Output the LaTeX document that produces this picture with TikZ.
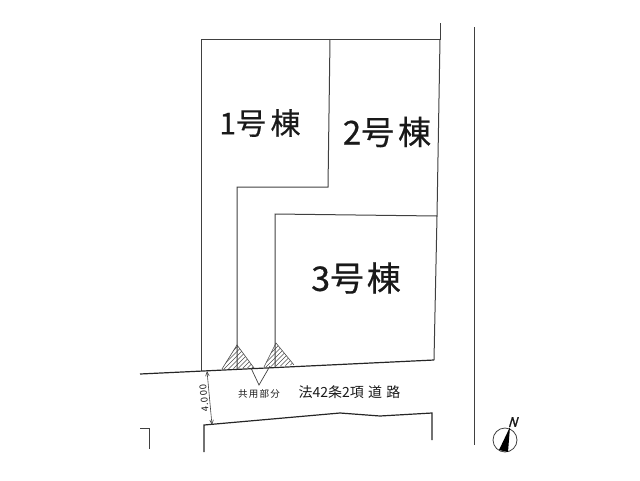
\documentclass[tikz,border=0pt]{standalone}
\usepackage{fontspec}
\usepackage{tikz}
\usetikzlibrary{arrows}
\setmainfont{Noto Sans CJK JP}
\newfontfamily\heavyfont[FakeBold=0.5]{Noto Sans CJK JP}
\newfontfamily\northfont[FakeBold=1.2,FakeSlant=0.3]{Noto Sans CJK JP}
\tikzstyle{boundary} = [draw=black!75, line width=1pt]
\tikzstyle{road} = [draw=black!85, line width=1.2pt]
\tikzstyle{hatchline} = [draw=black!70, line width=0.6pt]
\tikzstyle{lotlabel} = [inner sep=0pt, text=black!90]

\begin{document}
\begin{tikzpicture}[x=1pt, y=-1pt]
    \useasboundingbox (0,0) rectangle (640,480);
    % Hatched corners
    \begin{scope}
        \clip (237,345) -- (222,369) -- (254,368) -- cycle;
        \foreach \x in {212,216.5,...,258} \path[hatchline] (\x,372) -- (\x+32,340);
    \end{scope}
    \begin{scope}
        \clip (276,343) -- (264,367) -- (294,365) -- cycle;
        \foreach \x in {252,256.5,...,298} \path[hatchline] (\x,372) -- (\x+32,340);
    \end{scope}
    \path[hatchline] (254,368) -- (237,345) -- (222,369);
    \path[hatchline] (294,365) -- (276,343) -- (264,367);
    % Lot lines
    \path[boundary] (440,23) -- (440,39) -- (201,39) -- (201,371);
    \path[boundary] (330,39) -- (328,187) -- (237,187) -- (237,369);
    \path[boundary] (440,39) -- (437,216) -- (275,214) -- (275,367);
    \path[boundary] (437,216) -- (434,360);
    % Road edges
    \path[road] (140,374) -- (434,360);
    \path[road] (204,452) -- (204,425) -- (340,413) -- (380,416) -- (432,413) -- (432,440);
    \path[boundary] (140,428) -- (149,428) -- (149,449);
    \path[boundary] (474,27) -- (474,445);
    % Shared part marker
    \path[draw=black!75, line width=0.7pt] (251,368) -- (259,385) -- (270,366);
    % Width dimension
    \coordinate (dimtop) at (207,371);
    \coordinate (dimbot) at (212,425);
    \draw[black!75, line width=0.6pt, <->, >=angle 45] (dimtop) -- (dimbot);
    \node [lotlabel, font=\fontsize{9.5}{9.5}\selectfont, rotate=95] (width) at (204,398) {4.\hspace{.12em}0\hspace{.12em}0\hspace{.12em}0};
    % Labels
    \node [lotlabel, font=\heavyfont\fontsize{30}{30}\selectfont] (lot1) at (260,123) {1号\hspace{.15em}棟};
    \node [lotlabel, font=\heavyfont\fontsize{33}{33}\selectfont] (lot2) at (387,132) {2号\hspace{.12em}棟};
    \node [lotlabel, font=\heavyfont\fontsize{34}{34}\selectfont] (lot3) at (356,278) {3号\hspace{.08em}棟};
    \node [lotlabel, font=\fontsize{9.5}{9.5}\selectfont] (shared) at (259,394) {共\hspace{.14em}用\hspace{.14em}部\hspace{.14em}分};
    \node [lotlabel, font=\fontsize{14}{14}\selectfont] (roadname) at (349.5,392) {法42条2項\hspace{.3em}道\hspace{.3em}路};
    % North mark
    \draw[black!75, line width=0.8pt] (505,440) circle [radius=12];
    \fill[black] (510,427) -- (499,450) -- (508,452) -- cycle;
    \node [lotlabel, font=\northfont\fontsize{13}{13}\selectfont] (north) at (512.5,422) {N};
\end{tikzpicture}
\end{document}
